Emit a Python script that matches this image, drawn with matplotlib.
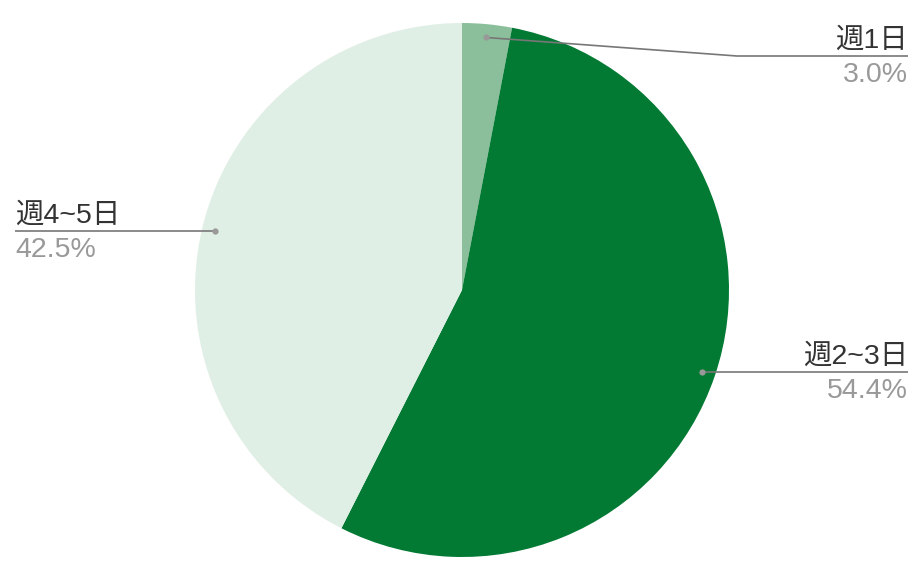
import numpy as np
import matplotlib
matplotlib.use("Agg")
import matplotlib.pyplot as plt

# data
labels = ["週1日", "週2~3日", "週4~5日"]
values = [3.0, 54.4, 42.5]
colors = ["#8bbf9b", "#027a33", "#e0efe5"]

W, H = 924, 576
plt.rcParams['font.family'] = ['Liberation Sans', 'Noto Sans CJK JP', 'DejaVu Sans']

fig = plt.figure(figsize=(W / 100, H / 100), dpi=100)
ax = fig.add_axes([0, 0, 1, 1])
ax.set_xlim(0, W)
ax.set_ylim(0, H)
ax.set_aspect('equal')
ax.axis('off')

cx, cy, R = 462, H - 290, 267
ax.pie(values, colors=colors, startangle=90, counterclock=False,
       center=(cx, cy), radius=R, wedgeprops=dict(linewidth=0), frame=True)
ax.set_xlim(0, W)
ax.set_ylim(0, H)
ax.axis('off')

# label lines
total = sum(values)
start = 90.0
top_line = H - 56
for lab, v in zip(labels, values):
    mid = start - v / total * 360 / 2
    start -= v / total * 360
    a = np.deg2rad(mid)
    px, py = cx + 0.95 * R * np.cos(a), cy + 0.95 * R * np.sin(a)
    right = px > cx
    ly = min(py, top_line)
    end_x = 908 if right else 15
    if ly != py:
        xs = [px, 737, end_x]
        ys = [py, ly, ly]
    else:
        xs = [px, end_x]
        ys = [py, ly]
    ax.plot(xs, ys, color="#777777", lw=1.2, solid_capstyle='butt')
    ax.plot(px, py, 'o', color="#999999", ms=4.5, mec='none')
    ha = 'right' if right else 'left'
    ax.text(end_x, ly + 8, lab, ha=ha, va='baseline', fontsize=20.5, color="#333333")
    ax.text(end_x, ly - 26, f"{v:.1f}%", ha=ha, va='baseline', fontsize=20.5, color="#999999")

fig.savefig("out.png", dpi=100, facecolor="white")
